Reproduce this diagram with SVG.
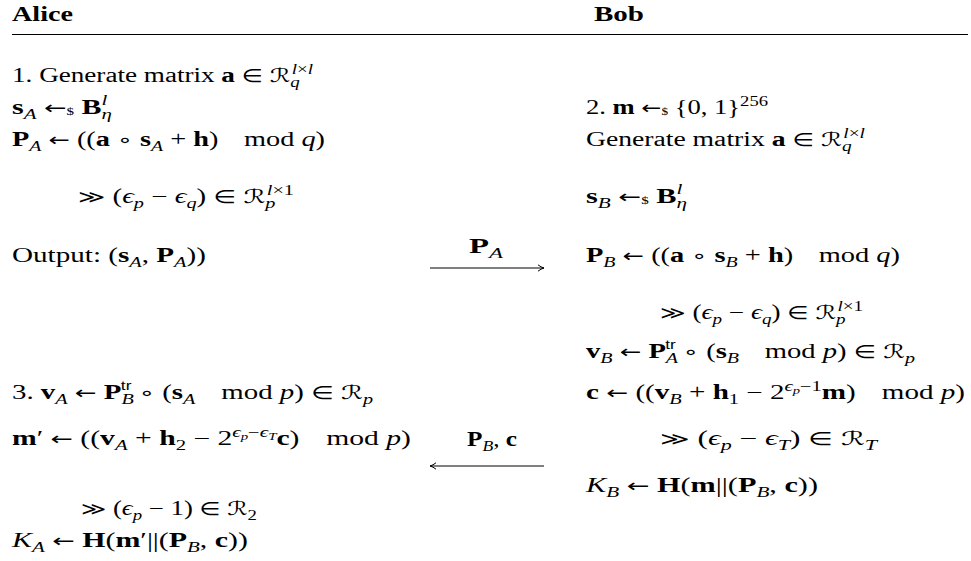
<svg xmlns="http://www.w3.org/2000/svg" width="971" height="561" viewBox="0 0 971 561">
<defs>
<style>
text { font-family: 'Liberation Serif','DejaVu Serif','DejaVu Sans',serif; font-size: 20px; fill: #000; }
.b { font-weight: bold; }
.i { font-style: italic; }
.s { font-size: 14px; }
.x { font-size: 10px; }
.sf { font-family: 'Liberation Sans','DejaVu Sans',sans-serif; font-size: 12px; }
.sym { font-family: 'DejaVu Sans',sans-serif; font-size: 18px; font-weight: normal; }
.cal { font-family: 'DejaVu Sans',sans-serif; font-size: 19px; }
.rule { stroke: #000; stroke-width: 1.2; }
.arrow { stroke: #000; stroke-width: 1; fill: none; marker-end: url(#ah); }
</style>
<marker id="ah" viewBox="0 0 8 8" refX="7.5" refY="4" markerWidth="8" markerHeight="8" markerUnits="userSpaceOnUse" orient="auto">
<path d="M1.5,0.8 Q4.5,3.2 7.5,4 Q4.5,4.8 1.5,7.2" fill="none" stroke="#000" stroke-width="1"/>
</marker>
</defs>
<rect width="971" height="561" fill="#fff"/>

<g id="header">
<text x="12" y="21" class="b" textLength="61" lengthAdjust="spacingAndGlyphs">Alice</text>
<text x="594" y="21" class="b" textLength="50" lengthAdjust="spacingAndGlyphs">Bob</text>
<line class="rule" x1="12" y1="34.5" x2="968" y2="34.5"/>
</g>

<g id="alice">
<text x="12" y="82" textLength="301" lengthAdjust="spacingAndGlyphs">1. Generate matrix <tspan class="b">a</tspan> <tspan class="sym">∈</tspan> <tspan class="cal">ℛ</tspan><tspan class="s i" dy="5">q</tspan><tspan class="s i" dx="-6" dy="-13">l</tspan><tspan class="s">×</tspan><tspan class="s i">l</tspan></text>
<text x="12" y="114" textLength="100" lengthAdjust="spacingAndGlyphs"><tspan class="b">s</tspan><tspan class="s i" dy="5">A</tspan><tspan dy="-5"> </tspan><tspan class="sym">←</tspan><tspan class="x" dy="1">$</tspan><tspan class="b" dy="-1" dx="5">B</tspan><tspan class="s i" dy="5">η</tspan><tspan class="s i" dx="-7" dy="-14">l</tspan></text>
<text x="12" y="146" textLength="313" lengthAdjust="spacingAndGlyphs"><tspan class="b">P</tspan><tspan class="s i" dy="5">A</tspan><tspan dy="-5"> </tspan><tspan class="sym">←</tspan> ((<tspan class="b">a</tspan> <tspan class="sym">∘</tspan> <tspan class="b">s</tspan><tspan class="s i" dy="5">A</tspan><tspan dy="-5"> + </tspan><tspan class="b">h</tspan>)<tspan dx="18">mod </tspan><tspan class="i">q</tspan>)</text>
<text x="78" y="203" textLength="216" lengthAdjust="spacingAndGlyphs"><tspan class="sym">≫</tspan> (<tspan class="i">ϵ</tspan><tspan class="s i" dy="5">p</tspan><tspan dy="-5"> − </tspan><tspan class="i">ϵ</tspan><tspan class="s i" dy="5">q</tspan><tspan dy="-5">) </tspan><tspan class="sym">∈</tspan> <tspan class="cal">ℛ</tspan><tspan class="s i" dy="5">p</tspan><tspan class="s i" dx="-6" dy="-13">l</tspan><tspan class="s">×1</tspan></text>
<text x="12" y="262" textLength="194" lengthAdjust="spacingAndGlyphs">Output: (<tspan class="b">s</tspan><tspan class="s i" dy="5">A</tspan><tspan dy="-5">, </tspan><tspan class="b">P</tspan><tspan class="s i" dy="5">A</tspan><tspan dy="-5">))</tspan></text>
<text x="12" y="399" textLength="361" lengthAdjust="spacingAndGlyphs">3. <tspan class="b">v</tspan><tspan class="s i" dy="5">A</tspan><tspan dy="-5"> </tspan><tspan class="sym">←</tspan> <tspan class="b">P</tspan><tspan class="s i" dy="5">B</tspan><tspan class="sf" dx="-9" dy="-14">tr</tspan><tspan dy="9"> </tspan><tspan class="sym">∘</tspan> (<tspan class="b">s</tspan><tspan class="s i" dy="5">A</tspan><tspan dy="-5" dx="18">mod </tspan><tspan class="i">p</tspan>) <tspan class="sym">∈</tspan> <tspan class="cal">ℛ</tspan><tspan class="s i" dy="5">p</tspan></text>
<text x="12" y="445" textLength="399" lengthAdjust="spacingAndGlyphs"><tspan class="b">m</tspan>′ <tspan class="sym">←</tspan> ((<tspan class="b">v</tspan><tspan class="s i" dy="5">A</tspan><tspan dy="-5"> + </tspan><tspan class="b">h</tspan><tspan class="s" dy="5">2</tspan><tspan dy="-5"> − 2</tspan><tspan class="s i" dy="-8">ϵ</tspan><tspan class="x i" dy="3">p</tspan><tspan class="s" dy="-3">−</tspan><tspan class="s i">ϵ</tspan><tspan class="x i" dy="3">T</tspan><tspan class="b" dy="5">c</tspan>)<tspan dx="18">mod </tspan><tspan class="i">p</tspan>)</text>
<text x="81" y="515" textLength="176" lengthAdjust="spacingAndGlyphs"><tspan class="sym">≫</tspan> (<tspan class="i">ϵ</tspan><tspan class="s i" dy="5">p</tspan><tspan dy="-5"> − 1) </tspan><tspan class="sym">∈</tspan> <tspan class="cal">ℛ</tspan><tspan class="s" dy="5">2</tspan></text>
<text x="12" y="547" textLength="236" lengthAdjust="spacingAndGlyphs"><tspan class="i">K</tspan><tspan class="s i" dy="5">A</tspan><tspan dy="-5"> </tspan><tspan class="sym">←</tspan> <tspan class="b">H</tspan>(<tspan class="b">m</tspan>′||(<tspan class="b">P</tspan><tspan class="s i" dy="5">B</tspan><tspan dy="-5">, </tspan><tspan class="b">c</tspan>))</text>
</g>

<g id="bob">
<text x="586" y="114" textLength="182" lengthAdjust="spacingAndGlyphs">2. <tspan class="b">m</tspan> <tspan class="sym">←</tspan><tspan class="x" dy="1">$</tspan><tspan dy="-1" dx="5">{0, 1}</tspan><tspan class="s" dy="-8">256</tspan></text>
<text x="586" y="146" textLength="279" lengthAdjust="spacingAndGlyphs">Generate matrix <tspan class="b">a</tspan> <tspan class="sym">∈</tspan> <tspan class="cal">ℛ</tspan><tspan class="s i" dy="5">q</tspan><tspan class="s i" dx="-6" dy="-13">l</tspan><tspan class="s">×</tspan><tspan class="s i">l</tspan></text>
<text x="586" y="203" textLength="101" lengthAdjust="spacingAndGlyphs"><tspan class="b">s</tspan><tspan class="s i" dy="5">B</tspan><tspan dy="-5"> </tspan><tspan class="sym">←</tspan><tspan class="x" dy="1">$</tspan><tspan class="b" dy="-1" dx="5">B</tspan><tspan class="s i" dy="5">η</tspan><tspan class="s i" dx="-7" dy="-14">l</tspan></text>
<text x="586" y="262" textLength="314" lengthAdjust="spacingAndGlyphs"><tspan class="b">P</tspan><tspan class="s i" dy="5">B</tspan><tspan dy="-5"> </tspan><tspan class="sym">←</tspan> ((<tspan class="b">a</tspan> <tspan class="sym">∘</tspan> <tspan class="b">s</tspan><tspan class="s i" dy="5">B</tspan><tspan dy="-5"> + </tspan><tspan class="b">h</tspan>)<tspan dx="18">mod </tspan><tspan class="i">q</tspan>)</text>
<text x="660" y="319" textLength="203" lengthAdjust="spacingAndGlyphs"><tspan class="sym">≫</tspan> (<tspan class="i">ϵ</tspan><tspan class="s i" dy="5">p</tspan><tspan dy="-5"> − </tspan><tspan class="i">ϵ</tspan><tspan class="s i" dy="5">q</tspan><tspan dy="-5">) </tspan><tspan class="sym">∈</tspan> <tspan class="cal">ℛ</tspan><tspan class="s i" dy="5">p</tspan><tspan class="s i" dx="-6" dy="-13">l</tspan><tspan class="s">×1</tspan></text>
<text x="586" y="358" textLength="329" lengthAdjust="spacingAndGlyphs"><tspan class="b">v</tspan><tspan class="s i" dy="5">B</tspan><tspan dy="-5"> </tspan><tspan class="sym">←</tspan> <tspan class="b">P</tspan><tspan class="s i" dy="5">A</tspan><tspan class="sf" dx="-9" dy="-14">tr</tspan><tspan dy="9"> </tspan><tspan class="sym">∘</tspan> (<tspan class="b">s</tspan><tspan class="s i" dy="5">B</tspan><tspan dy="-5" dx="18">mod </tspan><tspan class="i">p</tspan>) <tspan class="sym">∈</tspan> <tspan class="cal">ℛ</tspan><tspan class="s i" dy="5">p</tspan></text>
<text x="586" y="399" textLength="379" lengthAdjust="spacingAndGlyphs"><tspan class="b">c</tspan> <tspan class="sym">←</tspan> ((<tspan class="b">v</tspan><tspan class="s i" dy="5">B</tspan><tspan dy="-5"> + </tspan><tspan class="b">h</tspan><tspan class="s" dy="5">1</tspan><tspan dy="-5"> − 2</tspan><tspan class="s i" dy="-8">ϵ</tspan><tspan class="x i" dy="3">p</tspan><tspan class="s" dy="-3">−1</tspan><tspan class="b" dy="8">m</tspan>)<tspan dx="18">mod </tspan><tspan class="i">p</tspan>)</text>
<text x="660" y="445" textLength="217" lengthAdjust="spacingAndGlyphs"><tspan class="sym">≫</tspan> (<tspan class="i">ϵ</tspan><tspan class="s i" dy="5">p</tspan><tspan dy="-5"> − </tspan><tspan class="i">ϵ</tspan><tspan class="s i" dy="5">T</tspan><tspan dy="-5">) </tspan><tspan class="sym">∈</tspan> <tspan class="cal">ℛ</tspan><tspan class="s i" dy="5">T</tspan></text>
<text x="586" y="492" textLength="232" lengthAdjust="spacingAndGlyphs"><tspan class="i">K</tspan><tspan class="s i" dy="5">B</tspan><tspan dy="-5"> </tspan><tspan class="sym">←</tspan> <tspan class="b">H</tspan>(<tspan class="b">m</tspan>||(<tspan class="b">P</tspan><tspan class="s i" dy="5">B</tspan><tspan dy="-5">, </tspan><tspan class="b">c</tspan>))</text>
</g>

<g id="connectors">
<path class="arrow" d="M430,268 H544"/>
<text x="469" y="253" textLength="34" lengthAdjust="spacingAndGlyphs"><tspan class="b">P</tspan><tspan class="s i" dy="5">A</tspan></text>
<path class="arrow" d="M544,466 H430"/>
<text x="467" y="446" textLength="50" lengthAdjust="spacingAndGlyphs"><tspan class="b">P</tspan><tspan class="s i" dy="5">B</tspan><tspan dy="-5">, </tspan><tspan class="b">c</tspan></text>
</g>
</svg>
